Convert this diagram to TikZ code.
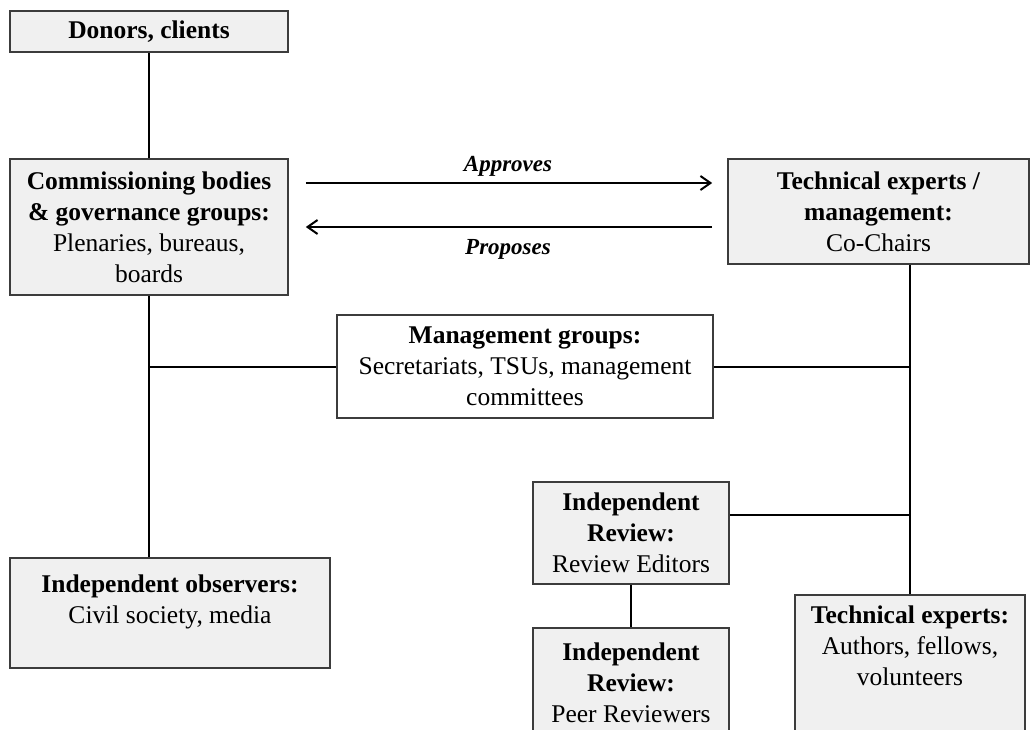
\documentclass[tikz,border=0pt]{standalone}
\usepackage{fontspec}
\setmainfont{Liberation Serif}
\usetikzlibrary{arrows.meta}
\definecolor{orgFill}{HTML}{F0F0F0}
\definecolor{orgLine}{HTML}{3C3C3C}

\begin{document}
\begin{tikzpicture}[x=1pt,y=-1pt,>={Straight Barb[length=10pt,width=14pt]}]
\useasboundingbox[fill=white] (0,0) rectangle (1031,730);
\clip (0,0) rectangle (1031,730);
\tikzset{box/.style={draw=orgLine,fill=orgFill,line width=1.6pt,align=center,inner sep=0pt,font=\fontsize{25.5}{31}\selectfont},link/.style={draw=black,line width=2pt},verb/.style={font=\fontsize{23}{28}\selectfont\bfseries\itshape}}
% boxes
\node[box,minimum width=278,minimum height=41] (donors) at (149,31.5) {\textbf{Donors, clients}};
\node[box,minimum width=278,minimum height=136] (comm) at (149,227) {\textbf{Commissioning bodies}\\\textbf{\& governance groups:}\\Plenaries, bureaus,\\boards};
\node[box,minimum width=301,minimum height=105] (techmgmt) at (878.5,211.5) {\textbf{Technical experts /}\\\textbf{management:}\\Co-Chairs};
\node[box,fill=white,minimum width=376,minimum height=103] (mgmt) at (525,366.5) {\textbf{Management groups:}\\Secretariats, TSUs, management\\committees};
\node[box,minimum width=320,minimum height=110] (observers) at (170,613) {\textbf{Independent observers:}\\Civil society, media\\[-4pt]\mbox{}};
\node[box,minimum width=196,minimum height=102] (editors) at (631,533) {\textbf{Independent}\\\textbf{Review:}\\Review Editors};
\node[box,minimum width=196,minimum height=110] (peers) at (631,683) {\textbf{Independent}\\\textbf{Review:}\\Peer Reviewers};
\node[box,anchor=north,minimum width=230,minimum height=172] (authors) at (910,594) {\textbf{Technical experts:}\\Authors, fellows,\\volunteers\\\strut\\\strut};
% connectors
\draw[link] (donors) -- (comm);
\draw[link] (comm.south) -- (comm.south |- observers.north);
\draw[link] (comm.south |- mgmt.west) -- (mgmt.west);
\draw[link] (mgmt.east) -- (mgmt.east -| authors.north);
\draw[link] (techmgmt.south -| authors.north) -- (authors.north);
\draw[link] ([yshift=18]editors.east) -- ([yshift=18]editors.east -| authors.north);
\draw[link] (editors) -- (peers);
\draw[link,->,shorten <=17,shorten >=15] ([yshift=44]comm.east) -- ([yshift=44]comm.east -| techmgmt.west) node[verb,midway,yshift=17] {Approves};
\draw[link,->,shorten <=15,shorten >=17] (comm.east -| techmgmt.west) -- (comm.east) node[verb,midway,yshift=-22] {Proposes};
\end{tikzpicture}
\end{document}
